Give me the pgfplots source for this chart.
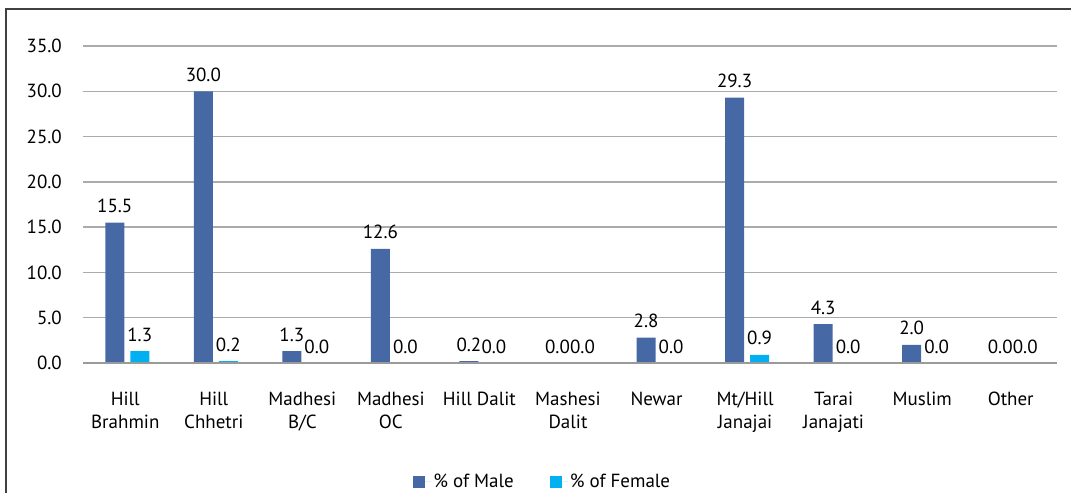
\documentclass[border=0pt]{standalone}
\usepackage{pgfplots}
\pgfplotsset{compat=1.18}
\usepackage{fontspec}
\setmainfont{PT Sans}

\definecolor{maleblue}{HTML}{4669A6}
\definecolor{femalecyan}{HTML}{00B0F0}
\definecolor{gridgray}{HTML}{ABABAB}

\begin{document}
\begin{tikzpicture}
  \useasboundingbox (0pt,0pt) rectangle (1071pt,493pt);
  % frame (cropped at right and bottom)
  \draw[line width=1.6pt, black!75] (6pt,0pt) -- (6pt,484pt) -- (1071pt,484pt);

  \begin{axis}[
      at={(83pt,130pt)}, anchor=south west,
      scale only axis,
      width=974pt, height=317pt,
      ybar=6pt, bar width=19pt,
      xmin=-0.5, xmax=10.5,
      ymin=0, ymax=35,
      ytick={0,5,...,35},
      xtick={0,...,10},
      xticklabels={{Hill\\Brahmin},{Hill\\Chhetri},{Madhesi\\B/C},{Madhesi\\OC},{Hill Dalit},{Mashesi\\Dalit},{Newar},{Mt/Hill\\Janajai},{Tarai\\Janajati},{Muslim},{Other}},
      font=\fontsize{19}{23}\selectfont,
      /pgf/number format/assume math mode=true,
      yticklabel={\pgfmathprintnumber[fixed,fixed zerofill,precision=1]{\tick}},
      yticklabel style={anchor=east, inner sep=0pt, xshift=-21pt},
      xticklabel style={align=center, anchor=north, inner sep=0pt, yshift=-29pt, xshift=-2pt},
      major tick length=0pt,
      axis line style={draw=none},
      ymajorgrids,
      grid style={gridgray, line width=1.3pt},
      clip=false,
      nodes near coords={\pgfmathprintnumber[fixed,fixed zerofill,precision=1]{\pgfplotspointmeta}},
      nodes near coords style={inner sep=0pt, anchor=south, yshift=9.5pt},
      legend columns=2,
      legend style={draw=none, fill=none, at={(axis description cs:0.472,-0.375)}, anchor=center,
        /tikz/every even column/.append style={column sep=34pt},
        font=\fontsize{19}{23}\selectfont},
      legend image code/.code={\fill[#1,draw=none] (0pt,-6pt) rectangle (12pt,6pt);
        \path (0pt,0pt) -- (18pt,0pt);},
    ]
    \addplot[fill=maleblue, draw=none] coordinates {
      (0,15.5) (1,30.0) (2,1.3) (3,12.6) (4,0.2) (5,0.0)
      (6,2.8) (7,29.3) (8,4.3) (9,2.0) (10,0.0)
    };
    \addplot[fill=femalecyan, draw=none] coordinates {
      (0,1.3) (1,0.2) (2,0.0) (3,0.0) (4,0.0) (5,0.0)
      (6,0.0) (7,0.9) (8,0.0) (9,0.0) (10,0.0)
    };
    \legend{\% of Male, \% of Female}
    \draw[gridgray!90!black, line width=2.4pt] (axis cs:-0.5,0) -- (axis cs:10.5,0);
  \end{axis}
\end{tikzpicture}
\end{document}
